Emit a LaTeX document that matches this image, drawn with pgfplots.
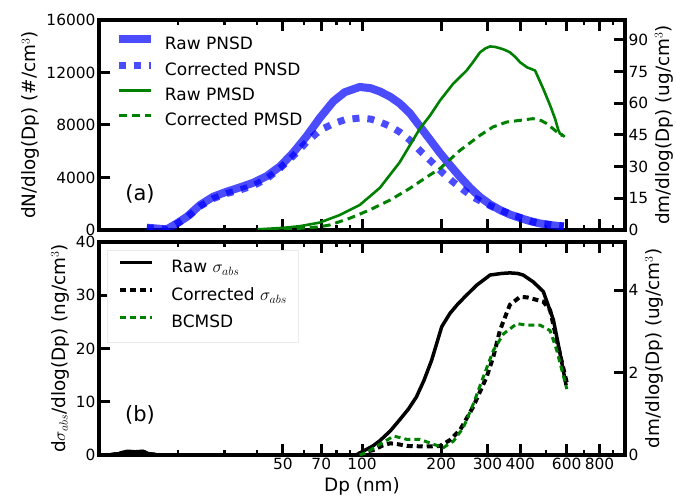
\documentclass[border=0pt]{standalone}
\usepackage{fontspec}
\setmainfont{DejaVu Sans}
\usepackage{pgfplots}
\pgfplotsset{compat=1.18}
\definecolor{mplgreen}{RGB}{0,128,0}
\pgfplotsset{
  scale only axis, width=526pt,
  tick align=inside,
  major tick length=11pt, minor tick length=5pt,
  every major tick/.append style={line width=3pt, black},
  every minor tick/.append style={line width=2.2pt, black},
  axis line style={line width=4.5pt},
  tick label style={font=\fontsize{15.4}{18}\selectfont},
  label style={font=\fontsize{18.4}{22}\selectfont},
  scaled ticks=false,
  legend cell align=left,
  legend image code/.code={\draw[#1] (0pt,6pt) -- (32pt,6pt);},
}
\tikzset{
 rawpnsd/.style={blue, draw opacity=0.7, line width=8pt, line join=round},
 corrpnsd/.style={blue, draw opacity=0.7, line width=7pt, dash pattern=on 7pt off 8pt},
 rawpmsd/.style={mplgreen, line width=2.6pt, line join=round},
 corrpmsd/.style={mplgreen, line width=3pt, dash pattern=on 8pt off 5pt},
 rawabs/.style={black, line width=3.5pt, line join=round},
 corrabs/.style={black, line width=4pt, dash pattern=on 6pt off 4pt},
 bcmsd/.style={mplgreen, line width=3pt, dash pattern=on 6pt off 4pt},
}
\begin{document}
\begin{tikzpicture}
\path[use as bounding box] (-99pt,-270pt) rectangle (577pt,230pt);
% ---------------- top panel, left axis
\begin{axis}[at={(0,0)}, anchor=south west, height=210pt,
  xmode=log, xmin=10, xmax=1000,
  ymin=0, ymax=16000, ytick={0,4000,8000,12000,16000},
  yticklabels={0,4000,8000,12000,16000}, ytick pos=left,
  xtick={50,70,100,200,300,400,600,800},
  minor xtick={20,30,40,60,80,90,500,700,900}, xticklabels=\empty,
  ylabel={dN/dlog(Dp) (\#/cm$^3$)}]
\addplot[rawpnsd] coordinates {
(15.2,175) (18.1,50) (19.8,510) (21.6,1010) (24.2,1900) (27.2,2540) (30.6,2920)
(34.4,3250) (38.6,3600) (43.4,4100) (48.8,4850) (54.8,5900) (61.6,7150) (69.2,8550)
(77.8,9800) (86,10500) (98,10900) (108,10800) (117,10550) (128,10150) (139,9650)
(152,8900) (166,7900) (181,6900) (198,5870) (217,4900) (236,4040) (258,3200)
(281,2510) (307,1950) (335,1520) (365,1180) (399,910) (436,680) (475,500)
(520,380) (550,320) (585,270)};
\addplot[corrpnsd] coordinates {
(15.2,170) (18.1,50) (19.8,480) (21.6,950) (24.2,1800) (27.2,2400) (30.6,2780)
(34.4,3050) (38.6,3380) (43.4,3900) (48.8,4700) (54.8,5650) (61.6,6700) (69.2,7600)
(77.8,8100) (86,8400) (98,8530) (108,8450) (117,8230) (128,7900) (139,7470)
(152,6850) (166,6050) (186,5100) (204,4300) (222,3660) (243,3050) (264,2510)
(289,2100) (315,1750) (345,1420) (375,1140) (410,880) (447,610) (490,470)
(532,380) (585,300)};
\node[font=\fontsize{21}{25}\selectfont] at (rel axis cs:0.078,0.172) {(a)};
\end{axis}
% ---------------- top panel, right axis
\begin{axis}[at={(0,0)}, anchor=south west, height=210pt,
  xmode=log, xmin=10, xmax=1000,
  axis x line=none, axis y line*=right,
  ymin=0, ymax=99.4, ytick={0,15,30,45,60,75,90},
  yticklabels={0,15,30,45,60,75,90},
  ylabel={dm/dlog(Dp) (ug/cm$^3$)},
  legend style={at={(0.030,0.928)}, anchor=north west, draw=none, fill=none,
    font=\fontsize{17}{20}\selectfont, inner sep=0pt, row sep=8.5pt, column sep=10pt,
    nodes={inner sep=0pt, text height=12.5pt, text depth=4pt}}]
\addlegendimage{rawpnsd}
\addlegendentry{Raw PNSD}
\addlegendimage{corrpnsd}
\addlegendentry{Corrected PNSD}
\addplot[rawpmsd] coordinates {
(40,0.3) (50,1.0) (58,1.8) (69,3.5) (82,7.0) (98,11.8) (117,20) (139,32)
(166,48) (181,54) (198,61.3) (222,69.2) (250,75.5) (264,79.4) (281,84.1)
(295,86) (307,86.9) (322,86.6) (335,86) (350,85.2) (365,84.1) (382,82)
(399,79.4) (424,77) (455,75.5) (489,66.8) (519,59) (542,52.7) (558,47.2)
(566,45.6) (575,45.3) (590,44.1)};
\addlegendentry{Raw PMSD}
\addplot[corrpmsd] coordinates {
(45,0.3) (58,0.8) (69,1.5) (75.5,2.4) (90,5.6) (107,9.5) (128,14.2) (152,19.7)
(166,22.9) (181,26) (198,29.1) (236,37.7) (281,44.8) (315,48.8) (355,51.1)
(399,51.9) (447,52.7) (480,51.8) (505,50.3) (551,46.4) (580,44.5)};
\addlegendentry{Corrected PMSD}
\end{axis}
% ---------------- bottom panel, left axis
\begin{axis}[at={(0,-225pt)}, anchor=south west, height=213pt,
  xmode=log, xmin=10, xmax=1000,
  ymin=0, ymax=40, ytick={0,10,20,30,40}, yticklabels={0,10,20,30,40}, ytick pos=left,
  xtick={50,70,100,200,300,400,600,800},
  xticklabels={50,70,100,200,300,400,600,800},
  minor xtick={20,30,40,60,80,90,500,700,900},
  xlabel={Dp (nm)},
  ylabel={d$\sigma_{abs}$/dlog(Dp) (ng/cm$^3$)}]
\addplot[rawabs] coordinates {
(11,0) (12,0.3) (12.8,0.7) (13.7,0.6) (14.7,0.7) (15.5,0.2) (17,0) (95,0)
(100,0.6) (110,1.7) (117,2.7) (128,4.5) (139,6.6) (150,8.6) (161,10.9) (172,14)
(184,17.8) (201,24.1) (216,26.6) (230,28.2) (246,29.7) (273,31.9) (307,33.8)
(340,34.1) (365,34.2) (390,34.1) (410,33.8) (448,32.5) (489,30.7) (534,25.4)
(566,19.1) (597,13.1)};
\addplot[corrabs] coordinates {
(11,0) (12,0.3) (12.8,0.6) (13.7,0.5) (14.7,0.6) (15.5,0.2) (17,0) (95,0)
(100,0.5) (110,0.9) (120,1.8) (128,2.2) (138,2.0) (148,1.7) (176,1.6) (198,1.7)
(216,2.8) (236,4.7) (265,9.1) (298,14.7) (316,18.5) (335,23.5) (365,28.2)
(399,29.7) (425,29.6) (448,29.3) (489,28.8) (519,27.2) (550,21.6) (601,13.5)};
\node[font=\fontsize{21}{25}\selectfont] at (rel axis cs:0.078,0.188) {(b)};
\end{axis}
% ---------------- bottom panel, right axis
\begin{axis}[at={(0,-225pt)}, anchor=south west, height=213pt,
  xmode=log, xmin=10, xmax=1000,
  axis x line=none, axis y line*=right,
  ymin=0, ymax=5.17, ytick={0,2,4}, yticklabels={0,2,4},
  ylabel={dm/dlog(Dp) (ug/cm$^3$)},
  legend style={at={(0.0152,0.9624)}, anchor=north west, draw=black!8, line width=0.8pt,
    fill=white, font=\fontsize{17}{20}\selectfont, inner xsep=11pt, inner ysep=10pt,
    row sep=11pt, column sep=17pt,
    nodes={inner sep=0pt, text height=12.5pt, text depth=4pt}}]
\addlegendimage{rawabs}
\addlegendentry{Raw $\sigma_{abs}$}
\addlegendimage{corrabs}
\addlegendentry{Corrected $\sigma_{abs}$}
\addplot[bcmsd] coordinates {
(98,0) (104,0.06) (117,0.26) (132,0.46) (148,0.38) (166,0.38) (187,0.26)
(204,0.18) (223,0.34) (243,0.67) (265,1.24) (289,1.89) (316,2.54) (345,2.94)
(388,3.19) (424,3.15) (476,3.15) (519,3.02) (550,2.54) (601,1.60)};
\addlegendentry{BCMSD}
\end{axis}
\end{tikzpicture}
\end{document}
